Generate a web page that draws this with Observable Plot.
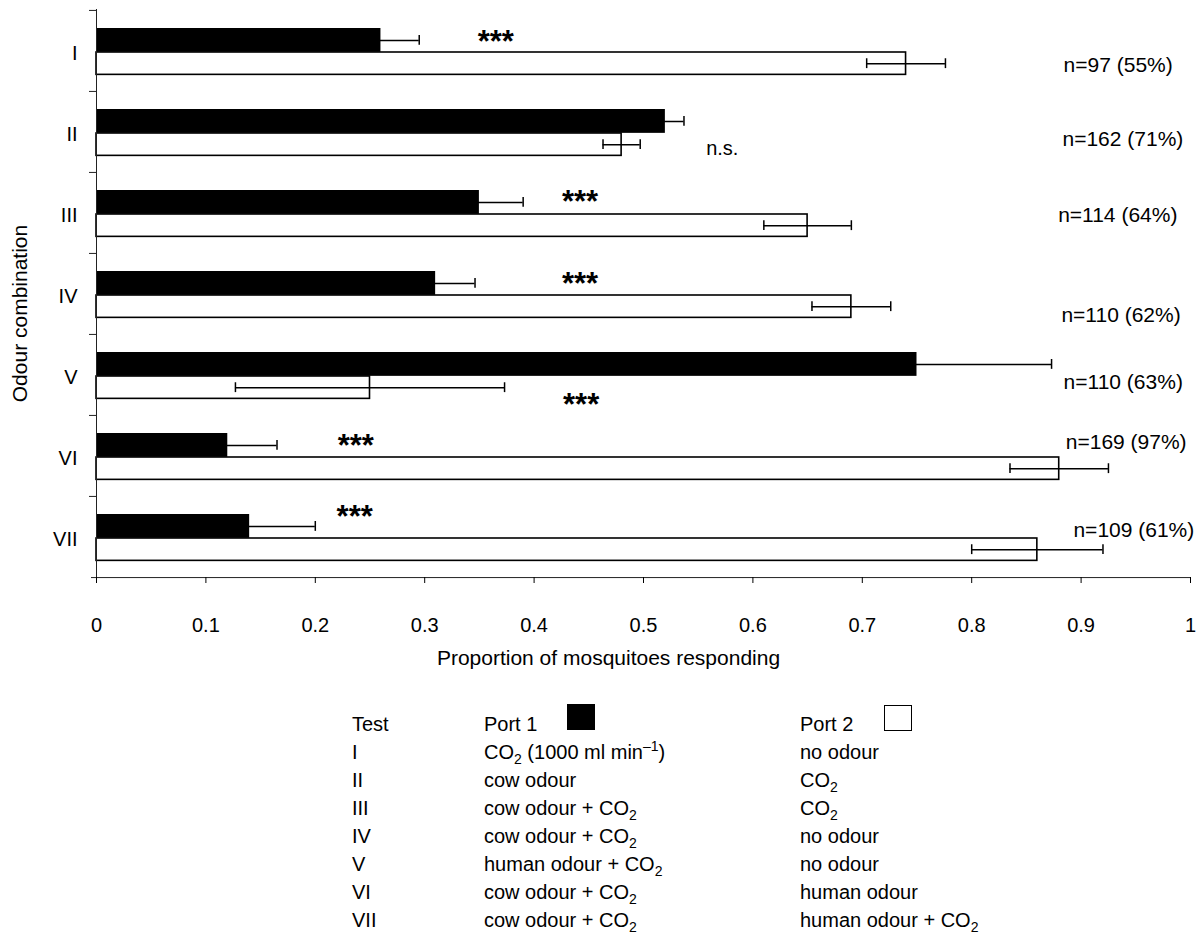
<!DOCTYPE html>
<html>
<head>
<meta charset="utf-8">
<script src="https://cdn.jsdelivr.net/npm/d3@7"></script>
<script src="https://cdn.jsdelivr.net/npm/@observablehq/plot@0.6"></script>
<style>
  html, body { margin: 0; padding: 0; background: #fff; }
  body { width: 1200px; font-family: "Liberation Sans", Arial, sans-serif; color: #000; }
  #legend { position: relative; width: 1200px; height: 234px; font-size: 20px; line-height: 28px; }
  #legend .c { position: absolute; white-space: nowrap; }
  #legend sub, #legend sup { font-size: 70%; line-height: 0; }
  #legend .sq { position: absolute; width: 28px; height: 26px; box-sizing: border-box; }
</style>
</head>
<body>
<div id="chart"></div>
<div id="legend"></div>
<script>
// ---- data ----
const cats = ["I", "II", "III", "IV", "V", "VI", "VII"];
const port1 = [0.26, 0.52, 0.35, 0.31, 0.75, 0.12, 0.14];
const port1Err = [0.035, 0.017, 0.04, 0.036, 0.123, 0.045, 0.06];
const port2 = [0.74, 0.48, 0.65, 0.69, 0.25, 0.88, 0.86];
const port2Err = [0.036, 0.017, 0.04, 0.036, 0.123, 0.045, 0.06];
const sigLabels = ["***", "n.s.", "***", "***", "***", "***", "***"];
const sigX = [0.365, 0.572, 0.442, 0.442, 0.443, 0.237, 0.236];
const nLabels = ["n=97 (55%)", "n=162 (71%)", "n=114 (64%)", "n=110 (62%)", "n=110 (63%)", "n=169 (97%)", "n=109 (61%)"];
const nX = [0.884, 0.883, 0.879, 0.882, 0.884, 0.886, 0.893];
const xTicks = [0, 0.1, 0.2, 0.3, 0.4, 0.5, 0.6, 0.7, 0.8, 0.9, 1];
const xLabel = "Proportion of mosquitoes responding";
const yLabel = "Odour combination";
const legendHead = ["Test", "Port 1", "Port 2"];
const port1Desc = ["CO<sub>2</sub> (1000 ml min<sup>–1</sup>)", "cow odour", "cow odour + CO<sub>2</sub>", "cow odour + CO<sub>2</sub>", "human odour + CO<sub>2</sub>", "cow odour + CO<sub>2</sub>", "cow odour + CO<sub>2</sub>"];
const port2Desc = ["no odour", "CO<sub>2</sub>", "CO<sub>2</sub>", "no odour", "no odour", "human odour", "human odour + CO<sub>2</sub>"];

// ---- layout (pixels, not data) ----
const sigDy = [-9, 17, -10.5, -9.5, 30, -10, -20];
const nDy = [14.4, 7.3, 2.1, 21, 6.9, -13.3, -6.4];

const rows = cats.map((c, i) => ({cat: c, p1: port1[i], e1: port1Err[i], p2: port2[i], e2: port2Err[i]}));

const W = 1200, H = 700, mT = 9, mB = 123, mL = 96, mR = 10;
const BW = (H - mT - mB) / cats.length;
const FW = W - mL - mR;
const blackC = 30 - BW / 2, whiteC = 53.25 - BW / 2;

const marks = [
  // white (port 2) bars
  Plot.barX(rows, {y: "cat", x1: 0, x2: "p2", fill: "white", stroke: "black", strokeWidth: 1.6, insetTop: 42, insetBottom: BW - 64.5}),
  // black (port 1) bars
  Plot.barX(rows, {y: "cat", x1: 0, x2: "p1", fill: "black", insetTop: 18, insetBottom: BW - 42}),
  // error bars
  Plot.ruleY(rows, {y: "cat", x1: d => d.p1 - d.e1, x2: d => d.p1 + d.e1, dy: blackC, stroke: "black", strokeWidth: 1.5}),
  Plot.tickX(rows, {y: "cat", x: d => d.p1 + d.e1, insetTop: 25, insetBottom: BW - 35, stroke: "black", strokeWidth: 1.5}),
  Plot.ruleY(rows, {y: "cat", x1: d => d.p2 - d.e2, x2: d => d.p2 + d.e2, dy: whiteC, stroke: "black", strokeWidth: 1.5}),
  Plot.tickX(rows, {y: "cat", x: d => d.p2 - d.e2, insetTop: 48.25, insetBottom: BW - 58.25, stroke: "black", strokeWidth: 1.5}),
  Plot.tickX(rows, {y: "cat", x: d => d.p2 + d.e2, insetTop: 48.25, insetBottom: BW - 58.25, stroke: "black", strokeWidth: 1.5}),
  // axes lines
  Plot.ruleX([0], {stroke: "#222", strokeWidth: 1}),
  Plot.ruleY([cats[cats.length - 1]], {dy: BW / 2, insetLeft: -5, stroke: "#222", strokeWidth: 1}),
  Plot.ruleY(cats, {y: d => d, dy: -BW / 2, insetLeft: -7, insetRight: FW, stroke: "#222", strokeWidth: 1}),
  Plot.axisX({ticks: xTicks, tickFormat: d => String(d), tickSize: 6, tickPadding: 34, label: null, fontSize: 20}),
  Plot.axisY({tickSize: 0, tickPadding: 19, label: null, fontSize: 20, dy: 2.5}),
  // axis titles
  Plot.text([xLabel], {frameAnchor: "bottom", x: 0.468, text: d => d, dy: 87, fontSize: 21}),
  Plot.text([yLabel], {frameAnchor: "left", textAnchor: "middle", text: d => d, rotate: -90, dx: -76, dy: 20, fontSize: 21}),
  // significance labels
  ...rows.map((r, i) => Plot.text([r], {y: "cat", x: () => sigX[i], text: () => sigLabels[i], dy: sigDy[i],
      fontSize: sigLabels[i] === "***" ? 31 : 20, fontWeight: sigLabels[i] === "***" ? "bold" : null})),
  // n labels
  ...rows.map((r, i) => Plot.text([r], {y: "cat", x: () => nX[i], text: () => nLabels[i], dy: nDy[i], textAnchor: "start", fontSize: 21}))
];

const chart = Plot.plot({
  width: W, height: H,
  marginTop: mT, marginBottom: mB, marginLeft: mL, marginRight: mR,
  style: {fontFamily: "'Liberation Sans', Arial, sans-serif", fontSize: "20px", color: "black", background: "white"},
  x: {domain: [0, 1], axis: null},
  y: {domain: cats, padding: 0, axis: null},
  marks
});
document.getElementById("chart").appendChild(chart);

// ---- legend table below the chart ----
const legend = document.getElementById("legend");
const colX = [352, 484, 800];
function cell(html, x, row) {
  const d = document.createElement("div");
  d.className = "c";
  d.style.left = x + "px";
  d.style.top = (10 + 28 * row) + "px";
  d.innerHTML = html;
  legend.appendChild(d);
}
legendHead.forEach((h, j) => cell(h, colX[j], 0));
cats.forEach((c, i) => {
  cell(c, colX[0], i + 1);
  cell(port1Desc[i], colX[1], i + 1);
  cell(port2Desc[i], colX[2], i + 1);
});
const sq1 = document.createElement("div");
sq1.className = "sq"; sq1.style.left = "567px"; sq1.style.top = "4px"; sq1.style.background = "black";
legend.appendChild(sq1);
const sq2 = document.createElement("div");
sq2.className = "sq"; sq2.style.left = "884px"; sq2.style.top = "5px"; sq2.style.background = "white"; sq2.style.border = "1.5px solid black";
legend.appendChild(sq2);
</script>
</body>
</html>
